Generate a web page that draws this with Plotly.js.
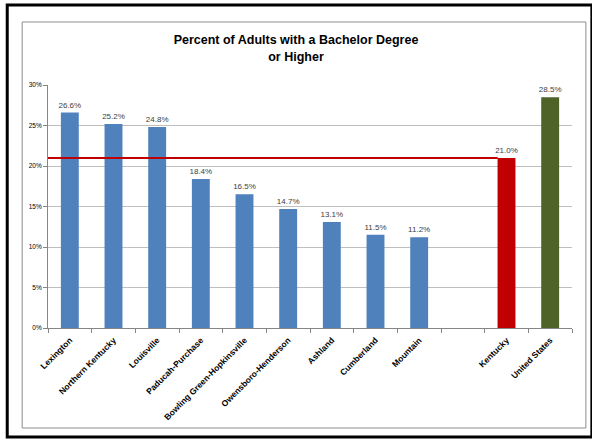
<!DOCTYPE html>
<html>
<head>
<meta charset="utf-8">
<script src="https://cdn.plot.ly/plotly-3.0.1.min.js"></script>
<style>
html,body{margin:0;padding:0;background:#fff;}
#chart{width:592px;height:444px;}
</style>
</head>
<body>
<div id="chart"></div>
<script>
const regions = ["Lexington","Northern Kentucky","Louisville","Paducah-Purchase","Bowling Green-Hopkinsville","Owensboro-Henderson","Ashland","Cumberland","Mountain"];
const regionValues = [26.6,25.2,24.8,18.4,16.5,14.7,13.1,11.5,11.2];
const gapCategory = [" "];
const stateLabel = ["Kentucky"];
const stateValue = [21.0];
const nationLabel = ["United States"];
const nationValue = [28.5];
const yTickValues = [0,5,10,15,20,25,30];
const yTickLabels = ["0%","5%","10%","15%","20%","25%","30%"];

const allCats = regions.concat(gapCategory, stateLabel, nationLabel);
const kyIndex = allCats.indexOf(stateLabel[0]);
const fmt = v => v.toFixed(1) + "%";
const font = "Liberation Sans, Arial, sans-serif";

function barTrace(x, y, color){
  return {
    type: "bar", x: x, y: y,
    marker: {color: color},
    text: y.map(fmt), textposition: "outside", constraintext: "none",
    textfont: {family: font, size: 8, color: "#404040"},
    cliponaxis: false, hoverinfo: "skip", showlegend: false
  };
}

const data = [
  barTrace(regions, regionValues, "#4F81BD"),
  barTrace(stateLabel, stateValue, "#C00000"),
  barTrace(nationLabel, nationValue, "#4F6228")
];

const layout = {
  width: 592, height: 444,
  margin: {l: 48, r: 20, t: 85, b: 116},
  paper_bgcolor: "#ffffff", plot_bgcolor: "#ffffff",
  barmode: "overlay", bargap: 0.59,
  font: {family: font, color: "#000"},
  title: {
    text: "<b>Percent of Adults with a Bachelor Degree<br>or Higher</b>",
    font: {family: font, size: 12.5, color: "#000"},
    x: 0.5, xref: "container", xanchor: "center",
    y: 0.9, yref: "container", yanchor: "middle"
  },
  xaxis: {
    type: "category", categoryorder: "array", categoryarray: allCats,
    range: [-0.5, allCats.length - 0.5],
    tickangle: -45, tickfont: {family: font, size: 8.5, color: "#000", weight: "bold"},
    ticklabelstandoff: 3,
    showline: true, linecolor: "#868686", linewidth: 1,
    ticks: "outside", tickson: "boundaries", ticklen: 4, tickcolor: "#868686",
    showgrid: false, zeroline: false, fixedrange: true
  },
  yaxis: {
    range: [0, 30], tickvals: yTickValues, ticktext: yTickLabels,
    tickfont: {family: font, size: 6.5, color: "#000"},
    showline: true, linecolor: "#868686", linewidth: 1,
    ticks: "outside", ticklen: 4, tickcolor: "#868686",
    showgrid: true, gridcolor: "#BFBFBF", gridwidth: 1,
    zeroline: false, fixedrange: true
  },
  shapes: [
    {type: "line", xref: "x", yref: "y", x0: -0.5, x1: kyIndex - 0.2, y0: stateValue[0], y1: stateValue[0],
     line: {color: "#C00000", width: 2}},
    {type: "rect", xref: "paper", yref: "paper", x0: -0.0493, x1: 1.0265, y0: -0.4115, y1: 1.2593,
     line: {color: "#8C8C8C", width: 1}, layer: "below"},
    {type: "rect", xref: "paper", yref: "paper", x0: -0.0778, x1: 1.0379, y0: -0.4486, y1: 1.3292,
     line: {color: "#000000", width: 3}, layer: "below"}
  ]
};

Plotly.newPlot("chart", data, layout, {displayModeBar: false, staticPlot: true});
</script>
</body>
</html>
